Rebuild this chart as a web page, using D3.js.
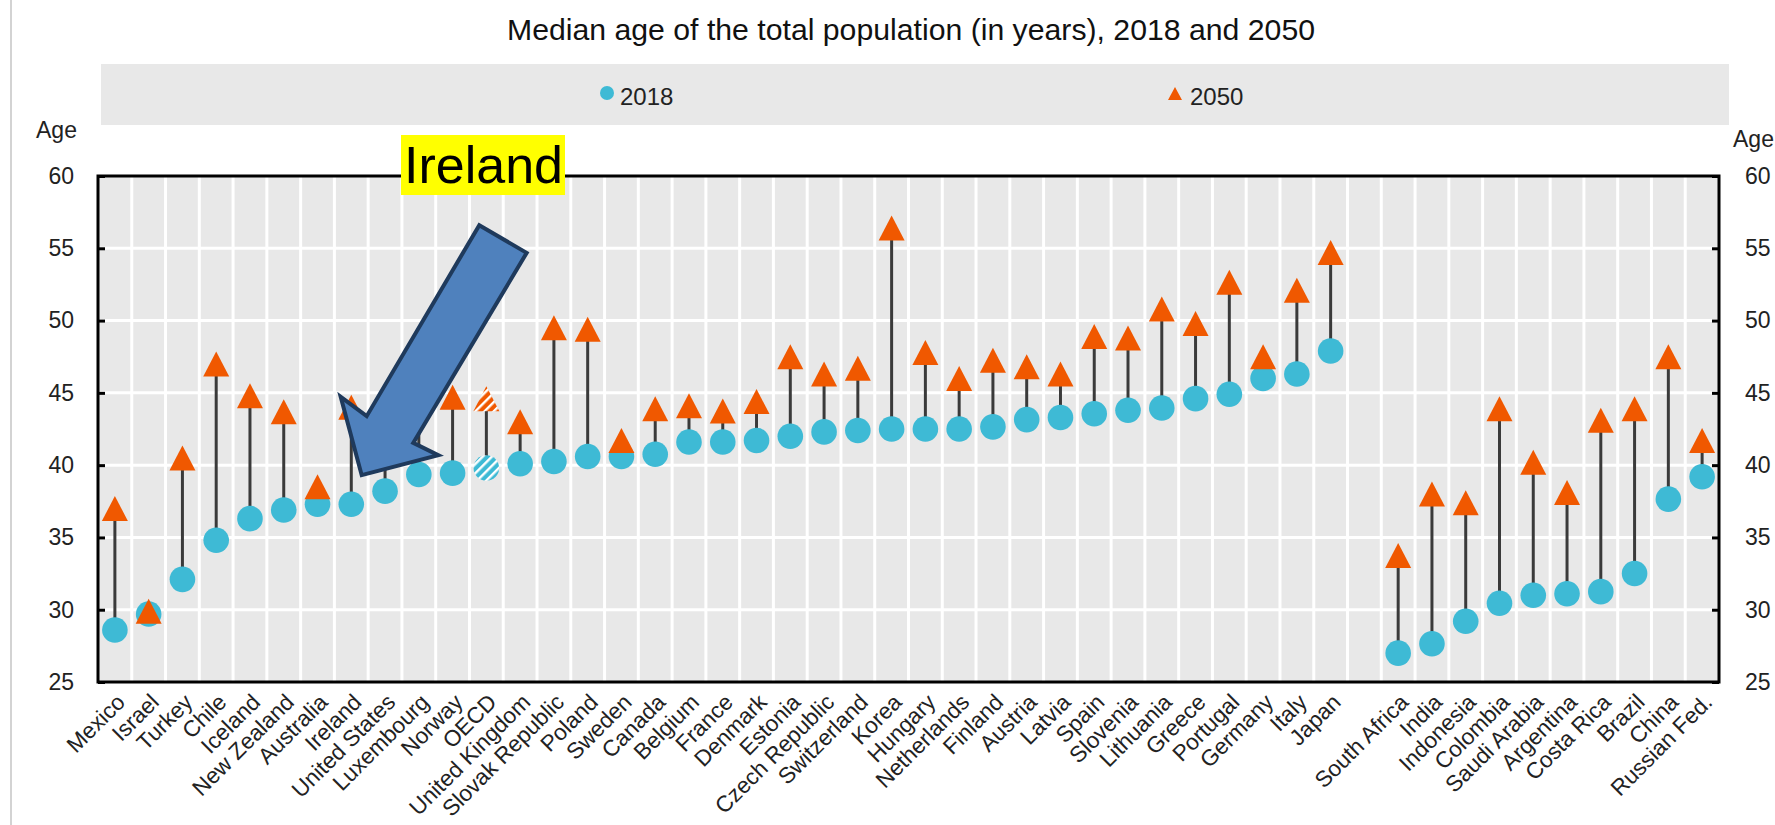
<!DOCTYPE html>
<html>
<head>
<meta charset="utf-8">
<script src="https://cdn.jsdelivr.net/npm/d3@7"></script>
<style>
  body { margin: 0; background: #fff; }
</style>
</head>
<body>
<div id="canvas"></div>
<script>
// data
var oecdCountries = ["Mexico","Israel","Turkey","Chile","Iceland","New Zealand","Australia","Ireland",
    "United States","Luxembourg","Norway","OECD","United Kingdom","Slovak Republic","Poland","Sweden",
    "Canada","Belgium","France","Denmark","Estonia","Czech Republic","Switzerland","Korea","Hungary",
    "Netherlands","Finland","Austria","Latvia","Spain","Slovenia","Lithuania","Greece","Portugal",
    "Germany","Italy","Japan"];
var oecdAge2018 = [28.6,29.7,32.1,34.8,36.3,36.9,37.3,37.3,38.2,39.35,39.45,39.8,40.1,40.25,40.6,40.6,
    40.75,41.6,41.6,41.7,42.0,42.3,42.4,42.5,42.5,42.5,42.65,43.15,43.3,43.55,43.8,43.95,44.6,44.9,
    46.0,46.3,47.9];
var oecdAge2050 = [37.0,29.9,40.5,47.0,44.8,43.7,38.5,44.0,42.7,45.0,44.7,44.6,43.0,49.5,49.4,41.7,
    43.9,44.1,43.75,44.4,47.5,46.3,46.7,56.4,47.8,46.0,47.25,46.8,46.3,48.9,48.8,50.8,49.8,52.65,
    47.5,52.1,54.7];

var partnerCountries = ["South Africa","India","Indonesia","Colombia","Saudi Arabia","Argentina",
    "Costa Rica","Brazil","China","Russian Fed."];
var partnerAge2018 = [27.0,27.65,29.2,30.45,31.0,31.1,31.25,32.5,37.65,39.2];
var partnerAge2050 = [33.75,38.0,37.4,43.9,40.2,38.1,43.1,43.9,47.5,41.7];

var yTicks = [25,30,35,40,45,50,55,60];
var seriesNames = ["2018","2050"];
var title = "Median age of the total population (in years), 2018 and 2050";
var highlight = "Ireland";

var W = 1775, H = 825;
var m = {t:176, r:56, b:143, l:98};
var font = "'Liberation Sans', Arial, sans-serif";
var cyan = '#3ebad5', orange = '#f05800';

var rows = oecdCountries.map(function(c,i){ return {country:c, a:oecdAge2018[i], b:oecdAge2050[i]}; })
    .concat(partnerCountries.map(function(c,i){ return {country:c, a:partnerAge2018[i], b:partnerAge2050[i]}; }));
var slots = oecdCountries.concat([' '], partnerCountries);

var svg = d3.select('#canvas').append('svg')
    .attr('width',W).attr('height',H)
    .style('font-family',font);

var x = d3.scaleBand().domain(slots).range([m.l, W-m.r]);
var y = d3.scaleLinear().domain([25,60]).range([H-m.b, m.t]);
var cx = function(c){ return x(c) + x.bandwidth()/2; };

// hatch patterns for the OECD average
var defs = svg.append('defs');
function hatch(id,color){
    var p = defs.append('pattern').attr('id',id).attr('patternUnits','userSpaceOnUse')
        .attr('width',6.5).attr('height',6.5).attr('patternTransform','rotate(45)');
    p.append('rect').attr('width',6.5).attr('height',6.5).attr('fill',color);
    p.append('rect').attr('width',2.4).attr('height',6.5).attr('fill','#fff');
}
hatch('hatchCyan',cyan);
hatch('hatchOrange',orange);

// thin grey line at far left
svg.append('line').attr('x1',11).attr('x2',11).attr('y1',0).attr('y2',H)
    .attr('stroke','#c4c4c4').attr('stroke-width',1.5);

// title
svg.append('text').attr('x',507).attr('y',40)
    .attr('textLength',808).attr('lengthAdjust','spacingAndGlyphs')
    .style('font-size','30px').attr('fill','#111').text(title);

// legend
svg.append('rect').attr('x',101).attr('y',64).attr('width',1628).attr('height',61).attr('fill','#e8e8e8');
svg.append('circle').attr('cx',607).attr('cy',93).attr('r',7).attr('fill',cyan);
svg.append('text').attr('x',620).attr('y',105).style('font-size','24px').attr('fill','#222').text(seriesNames[0]);
svg.append('path').attr('d','M1175,87L1182,100L1168,100Z').attr('fill',orange);
svg.append('text').attr('x',1190).attr('y',105).style('font-size','24px').attr('fill','#222').text(seriesNames[1]);

// plot background + grid
var plot = svg.append('g');
plot.append('rect').attr('x',m.l).attr('y',m.t).attr('width',W-m.r-m.l).attr('height',H-m.b-m.t).attr('fill','#e8e8e8');

plot.selectAll('.hgrid').data(yTicks.slice(1,-1)).enter().append('line')
    .attr('class','hgrid')
    .attr('x1',m.l).attr('x2',W-m.r)
    .attr('y1',function(d){ return y(d); }).attr('y2',function(d){ return y(d); })
    .attr('stroke','#fff').attr('stroke-width',3);

plot.selectAll('.vgrid').data(slots.slice(1)).enter().append('line')
    .attr('class','vgrid')
    .attr('x1',function(d){ return x(d); }).attr('x2',function(d){ return x(d); })
    .attr('y1',m.t).attr('y2',H-m.b)
    .attr('stroke','#fff').attr('stroke-width',3);

// stems
plot.selectAll('.stem').data(rows).enter().append('line')
    .attr('class','stem')
    .attr('x1',function(d){ return cx(d.country); }).attr('x2',function(d){ return cx(d.country); })
    .attr('y1',function(d){ return y(d.a); }).attr('y2',function(d){ return y(d.b); })
    .attr('stroke','#3a3a3a').attr('stroke-width',3);

// 2018 circles
plot.selectAll('.dot').data(rows).enter().append('circle')
    .attr('class','dot')
    .attr('cx',function(d){ return cx(d.country); })
    .attr('cy',function(d){ return y(d.a); })
    .attr('r',12.8)
    .attr('fill',function(d){ return d.country=='OECD' ? 'url(#hatchCyan)' : cyan; });

// 2050 triangles
plot.selectAll('.tri').data(rows).enter().append('path')
    .attr('class','tri')
    .attr('transform',function(d){ return 'translate(' + cx(d.country) + ',' + y(d.b) + ')'; })
    .attr('d','M0,-12.5L13,12.5L-13,12.5Z')
    .attr('fill',function(d){ return d.country=='OECD' ? 'url(#hatchOrange)' : orange; });

// frame
svg.append('rect').attr('x',m.l).attr('y',m.t).attr('width',W-m.r-m.l).attr('height',H-m.b-m.t)
    .attr('fill','none').attr('stroke','#000').attr('stroke-width',3);

// y axes, ticks pointing inward
function styleAxis(g){
    g.select('.domain').remove();
    g.attr('font-size',23).attr('font-family',font);
    g.selectAll('line').attr('stroke','#000').attr('stroke-width',3);
    g.selectAll('text').attr('fill','#222');
}
svg.append('g').attr('transform','translate(' + m.l + ',0)')
    .call(d3.axisLeft(y).tickValues(yTicks).tickSize(-7).tickPadding(24))
    .call(styleAxis);
svg.append('g').attr('transform','translate(' + (W-m.r) + ',0)')
    .call(d3.axisRight(y).tickValues(yTicks).tickSize(-7).tickPadding(26))
    .call(styleAxis);

svg.append('text').attr('x',36).attr('y',138).style('font-size','23px').attr('fill','#222').text('Age');
svg.append('text').attr('x',1733).attr('y',147).style('font-size','23px').attr('fill','#222').text('Age');

// x axis labels
var xAxis = svg.append('g').attr('transform','translate(0,' + (H-m.b) + ')')
    .call(d3.axisBottom(x).tickValues(rows.map(function(d){ return d.country; })).tickSize(0));
xAxis.select('.domain').remove();
xAxis.attr('font-size',22.5).attr('font-family',font);
xAxis.selectAll('text')
    .attr('y',0).attr('dy','0.35em').attr('fill','#222')
    .attr('text-anchor','end')
    .attr('transform','translate(6,16) rotate(-45)');

// Ireland annotation
var tipX = cx(highlight) + 10.4,
    tipY = y(rows.filter(function(d){ return d.country==highlight; })[0].a) - 29;
var arrowPts = [[117.6,-250],[165,-222.3],[51.6,-32.3],[76.6,-20],[0,0],[-21,-78.3],[5,-59]];
svg.append('path')
    .attr('d','M' + arrowPts.map(function(p){ return (tipX+p[0]) + ',' + (tipY+p[1]); }).join('L') + 'Z')
    .attr('fill','#4f81bd').attr('stroke','#1f3a5c').attr('stroke-width',4).attr('stroke-linejoin','miter');

svg.append('rect').attr('x',401).attr('y',135).attr('width',164).attr('height',60).attr('fill','#ffff00');
svg.append('text').attr('x',404).attr('y',183).style('font-size','52px').attr('fill','#000').text(highlight);
</script>
</body>
</html>
